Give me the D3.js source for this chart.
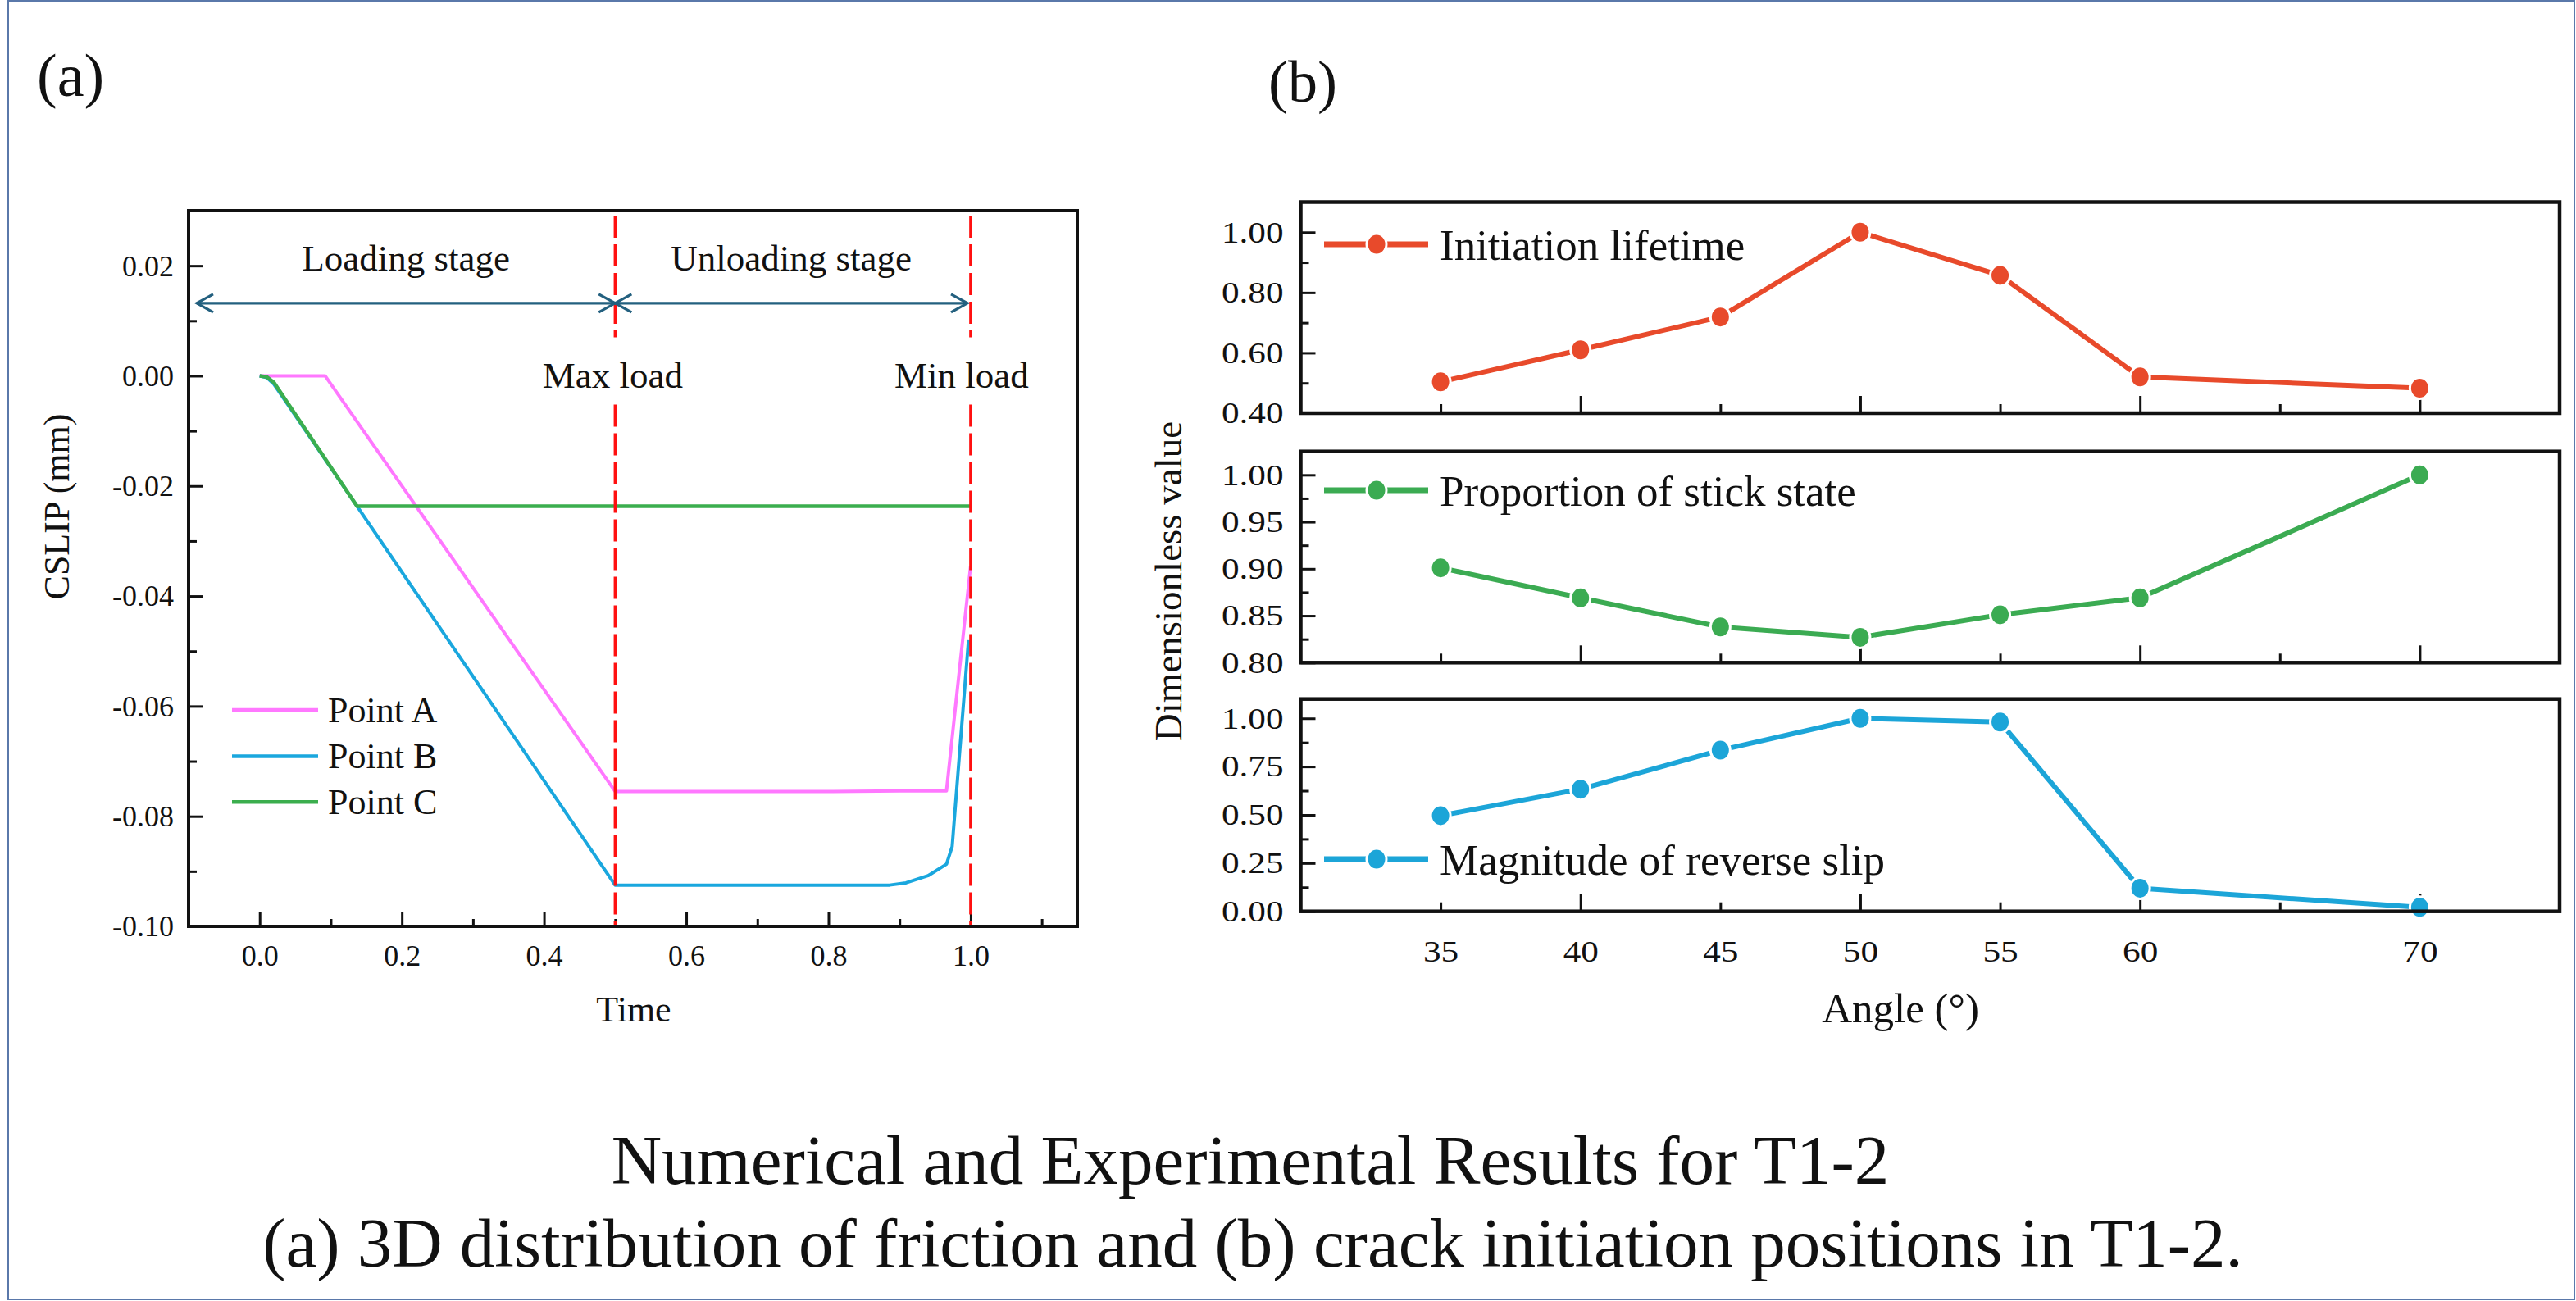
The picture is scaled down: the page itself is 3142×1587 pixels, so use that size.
<!DOCTYPE html>
<html><head><meta charset="utf-8">
<script src="https://cdn.jsdelivr.net/npm/d3@7"></script>
<style>
body{margin:0;background:#fff;}
svg{display:block;}
text{font-family:"Liberation Serif","Times New Roman",serif;fill:#111;}
</style>
</head><body>
<svg id="chart" width="3142" height="1587"></svg>
<script>
// ---------------- data : panel (a) ----------------
const timeA = [0, 0.02, 0.05, 0.092, 0.5, 0.6, 0.7, 0.8, 0.9, 0.966, 0.981, 1.0];
const slipA = [0, 0, 0, 0, -0.0755, -0.0755, -0.0755, -0.0755, -0.0754, -0.0754, -0.0573, -0.0345];
const timeB = [0, 0.01, 0.02, 0.5, 0.886, 0.909, 0.94, 0.966, 0.974, 0.997];
const slipB = [0, -0.0003, -0.0015, -0.0925, -0.0925, -0.0921, -0.0908, -0.0887, -0.0855, -0.048];
const timeC = [0, 0.01, 0.02, 0.137, 1.0];
const slipC = [0, -0.0002, -0.0012, -0.0237, -0.0237];
const seriesNamesA = ["Point A", "Point B", "Point C"];
const seriesColorsA = ["#ff78ff", "#1aa7de", "#3bae4e"];
const timeTicks = [0, 0.2, 0.4, 0.6, 0.8, 1.0];
const timeMinor = [0.1, 0.3, 0.5, 0.7, 0.9, 1.1];
const slipTicks = [0.02, 0, -0.02, -0.04, -0.06, -0.08, -0.10];
const slipMinor = [0.01, -0.01, -0.03, -0.05, -0.07, -0.09];
const loadTimes = [0.5, 1.0];
const loadLabels = ["Max load", "Min load"];
const stageLabels = ["Loading stage", "Unloading stage"];

// ---------------- data : panel (b) ----------------
const angles = [35, 40, 45, 50, 55, 60, 70];
const initiationLifetime = [0.504, 0.61, 0.719, 1.0, 0.857, 0.52, 0.483];
const stickProportion = [0.901, 0.869, 0.838, 0.827, 0.851, 0.869, 1.0];
const reverseSlip = [0.496, 0.633, 0.835, 1.0, 0.981, 0.12, 0.021];
const seriesNamesB = ["Initiation lifetime", "Proportion of stick state", "Magnitude of reverse slip"];
const seriesColorsB = ["#e84a2b", "#3bab52", "#1ca5d8"];
const angleTicks = [35, 40, 45, 50, 55, 60, 65, 70];
const angleLabels = [35, 40, 45, 50, 55, 60, 70];
const p1Ticks = [0.4, 0.6, 0.8, 1.0], p1Minor = [0.5, 0.7, 0.9];
const p2Ticks = [0.8, 0.85, 0.9, 0.95, 1.0], p2Minor = [0.825, 0.875, 0.925, 0.975];
const p3Ticks = [0, 0.25, 0.5, 0.75, 1.0], p3Minor = [0.125, 0.375, 0.625, 0.875];

const captionLines = ["Numerical and Experimental Results for T1-2",
  "(a) 3D distribution of friction and (b) crack initiation positions in T1-2."];

// ---------------- drawing ----------------
const svg = d3.select("#chart");
svg.append("rect").attr("width", 3142).attr("height", 1587).attr("fill", "#fff");
svg.append("rect").attr("x", 10).attr("y", 1).attr("width", 3130).attr("height", 1584)
  .attr("fill", "none").attr("stroke", "#5a78aa").attr("stroke-width", 2);

const fmt2 = v => v.toFixed(2);

// ======== panel (a) ========
const xA = d3.scaleLinear().domain([-0.1, 1.15]).range([230, 1314]);
const yA = d3.scaleLinear().domain([-0.1, 0.03]).range([1130, 257]);
const gA = svg.append("g");

const yAx = gA.append("g").attr("transform", `translate(${xA.range()[0]},0)`)
  .call(d3.axisLeft(yA).tickValues(slipTicks).tickSize(-18).tickPadding(18).tickFormat(fmt2));
const yAxm = gA.append("g").attr("transform", `translate(${xA.range()[0]},0)`)
  .call(d3.axisLeft(yA).tickValues(slipMinor).tickSize(-10).tickFormat(""));
const xAx = gA.append("g").attr("transform", `translate(0,${yA.range()[0]})`)
  .call(d3.axisBottom(xA).tickValues(timeTicks).tickSize(-18).tickFormat(d3.format(".1f")));
const xAxm = gA.append("g").attr("transform", `translate(0,${yA.range()[0]})`)
  .call(d3.axisBottom(xA).tickValues(timeMinor).tickSize(-9).tickFormat(""));
[yAx, yAxm, xAx, xAxm].forEach(a => {
  a.select(".domain").remove();
  a.selectAll("line").attr("stroke", "#111").attr("stroke-width", 3);
  a.selectAll("text").attr("font-size", 36).attr("font-family", '"Liberation Serif","Times New Roman",serif').attr("fill", "#111");
});
yAx.selectAll("text").attr("dy", "0.33em");
xAx.selectAll("text").attr("dy", 0).attr("y", 48);

const seriesA = [[timeA, slipA], [timeB, slipB], [timeC, slipC]];
const lineA = d3.line().x(d => xA(d[0])).y(d => yA(d[1]));
seriesA.forEach((s, i) => {
  const pts = s[0].map((t, j) => [t, s[1][j]]);
  gA.append("path").datum(pts).attr("d", lineA).attr("fill", "none")
    .attr("stroke", seriesColorsA[i]).attr("stroke-width", i === 2 ? 4.5 : 4)
    .attr("stroke-linejoin", "round");
});

const gapTop = 0.007, gapBot = -0.0052, lineTop = 0.0291;
loadTimes.forEach((t, i) => {
  [[lineTop, gapTop], [gapBot, yA.domain()[0]]].forEach(seg => {
    gA.append("line").attr("x1", xA(t)).attr("x2", xA(t))
      .attr("y1", yA(seg[0])).attr("y2", yA(seg[1]))
      .attr("stroke", "#ff1010").attr("stroke-width", 3.5).attr("stroke-dasharray", "27,8");
  });
  gA.append("text").attr("x", xA(t) + (i === 0 ? -3 : -11)).attr("y", yA(-0.0022))
    .attr("text-anchor", "middle").attr("font-size", 45).text(loadLabels[i]);
});

const arrowY = 0.0132;
const arrows = [[-0.0885, 0.5], [0.5, 0.9955]];
arrows.forEach((a, i) => {
  const x1 = xA(a[0]), x2 = xA(a[1]), y = yA(arrowY);
  gA.append("line").attr("x1", x1).attr("x2", x2).attr("y1", y).attr("y2", y)
    .attr("stroke", "#23607f").attr("stroke-width", 3.2);
  gA.append("path").attr("d", `M${x1 + 20},${y - 11}L${x1},${y}L${x1 + 20},${y + 11}`)
    .attr("fill", "none").attr("stroke", "#23607f").attr("stroke-width", 3.2);
  gA.append("path").attr("d", `M${x2 - 20},${y - 11}L${x2},${y}L${x2 - 20},${y + 11}`)
    .attr("fill", "none").attr("stroke", "#23607f").attr("stroke-width", 3.2);
  gA.append("text").attr("x", (x1 + x2) / 2).attr("y", yA(0.0191))
    .attr("text-anchor", "middle").attr("font-size", 45).text(stageLabels[i]);
});

gA.append("rect").attr("x", xA.range()[0]).attr("y", yA.range()[1])
  .attr("width", xA.range()[1] - xA.range()[0]).attr("height", yA.range()[0] - yA.range()[1])
  .attr("fill", "none").attr("stroke", "#111").attr("stroke-width", 4);

const legYA = [-0.0607, -0.0691, -0.0774];
seriesNamesA.forEach((n, i) => {
  const y = yA(legYA[i]);
  gA.append("line").attr("x1", 283).attr("x2", 388).attr("y1", y).attr("y2", y)
    .attr("stroke", seriesColorsA[i]).attr("stroke-width", 4.5);
  gA.append("text").attr("x", 400).attr("y", y).attr("dy", "0.34em").attr("font-size", 44).text(n);
});

gA.append("text").attr("x", (xA(-0.1) + xA(1.15)) / 2 + 1).attr("y", 1246)
  .attr("text-anchor", "middle").attr("font-size", 44).text("Time");
gA.append("text").attr("transform", "translate(84,618) rotate(-90)")
  .attr("text-anchor", "middle").attr("font-size", 44).text("CSLIP (mm)");

svg.append("text").attr("x", 45).attr("y", 117).attr("font-size", 74).text("(a)");
svg.append("text").attr("x", 1547).attr("y", 124).attr("font-size", 72).text("(b)");

// ======== panel (b) ========
const xB = d3.scaleLinear().domain([30, 75]).range([1586.5, 3122]);
const panels = [
  {vals: initiationLifetime, dom: [0.4, 1.1], rng: [504, 246.5], maj: p1Ticks, min: p1Minor, legY: 298},
  {vals: stickProportion, dom: [0.8, 1.025], rng: [808.3, 550.7], maj: p2Ticks, min: p2Minor, legY: 598},
  {vals: reverseSlip, dom: [0, 1.1], rng: [1111.7, 852.7], maj: p3Ticks, min: p3Minor, legY: 1048}
];
const tickScaleX = 1.2;
panels.forEach((p, pi) => {
  const g = svg.append("g");
  const y = d3.scaleLinear().domain(p.dom).range(p.rng);
  const x0 = xB.range()[0];
  const ya = g.append("g").attr("transform", `translate(${x0},0)`)
    .call(d3.axisLeft(y).tickValues(p.maj).tickSize(-18).tickPadding(21 / tickScaleX).tickFormat(fmt2));
  const yam = g.append("g").attr("transform", `translate(${x0},0)`)
    .call(d3.axisLeft(y).tickValues(p.min).tickSize(-10).tickFormat(""));
  const xa = g.append("g").attr("transform", `translate(0,${p.rng[0]})`)
    .call(d3.axisBottom(xB).tickValues(angleTicks)
      .tickSize(0).tickFormat(d => (pi === 2 && angleLabels.includes(d)) ? d : ""));
  [ya, yam, xa].forEach(a => {
    a.select(".domain").remove();
    a.selectAll("line").attr("stroke", "#111").attr("stroke-width", 3);
    a.selectAll("text").attr("font-size", 36).attr("font-family", '"Liberation Serif","Times New Roman",serif').attr("fill", "#111");
  });
  xa.selectAll(".tick line").attr("y2", d => (d % 10 === 0) ? -21 : -11);
  ya.selectAll("text").attr("dy", "0.33em")
    .attr("transform", `scale(${tickScaleX},1)`);
  xa.selectAll("text").attr("dy", 0).attr("y", 61)
    .attr("transform", `scale(${tickScaleX},1)`);

  const pts = angles.map((a, i) => [a, p.vals[i]]);
  g.append("path").datum(pts)
    .attr("d", d3.line().x(d => xB(d[0])).y(d => y(d[1])))
    .attr("fill", "none").attr("stroke", seriesColorsB[pi]).attr("stroke-width", 6)
    .attr("stroke-linejoin", "round");
  g.selectAll("ellipse.m").data(pts).enter().append("ellipse")
    .attr("cx", d => xB(d[0])).attr("cy", d => y(d[1])).attr("rx", 12).attr("ry", 13)
    .attr("fill", seriesColorsB[pi]).attr("stroke", "#fff").attr("stroke-width", 3);

  g.append("rect").attr("x", xB.range()[0]).attr("y", p.rng[1])
    .attr("width", xB.range()[1] - xB.range()[0]).attr("height", p.rng[0] - p.rng[1])
    .attr("fill", "none").attr("stroke", "#111").attr("stroke-width", 4.5);

  g.append("line").attr("x1", 1615).attr("x2", 1742).attr("y1", p.legY).attr("y2", p.legY)
    .attr("stroke", seriesColorsB[pi]).attr("stroke-width", 7);
  g.append("ellipse").attr("cx", 1679).attr("cy", p.legY).attr("rx", 12).attr("ry", 13)
    .attr("fill", seriesColorsB[pi]).attr("stroke", "#fff").attr("stroke-width", 3);
  g.append("text").attr("x", 1756).attr("y", p.legY).attr("dy", "0.35em")
    .attr("font-size", 53).text(seriesNamesB[pi]);
});

svg.append("text").attr("x", 2318).attr("y", 1247).attr("text-anchor", "middle")
  .attr("font-size", 51).text("Angle (°)");
svg.append("text").attr("transform", "translate(1441,709) rotate(-90)")
  .attr("text-anchor", "middle").attr("font-size", 47).text("Dimensionless value");

svg.append("text").attr("x", 1525).attr("y", 1444).attr("text-anchor", "middle")
  .attr("font-size", 85).text(captionLines[0]);
svg.append("text").attr("x", 1528).attr("y", 1545).attr("text-anchor", "middle")
  .attr("font-size", 85).text(captionLines[1]);
</script>
</body></html>
